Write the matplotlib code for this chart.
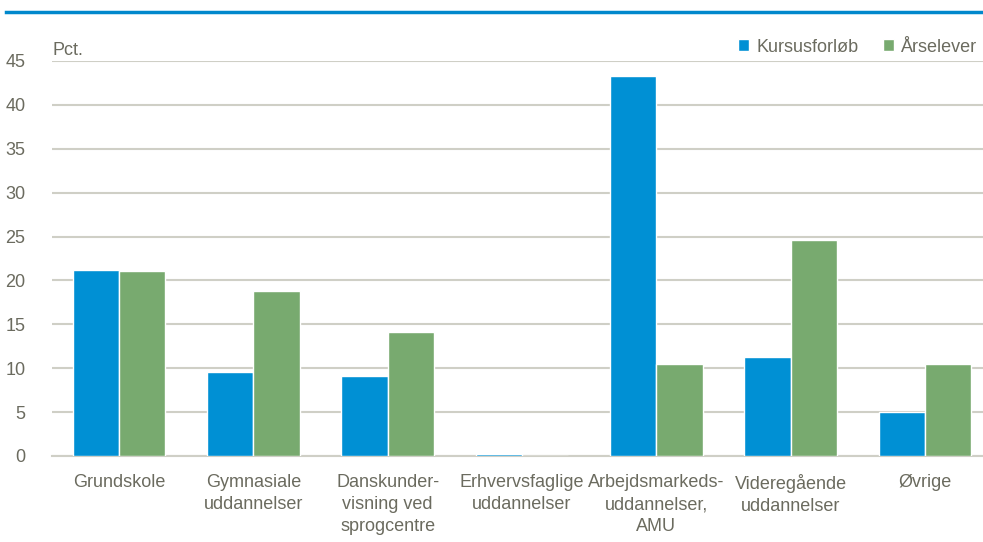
import matplotlib.pyplot as plt
import numpy as np

# ======================
# DATA
# ======================
categories = [
    "Grundskole",
    "Gymnasiale\nuddannelser",
    "Danskunder-\nvisning ved\nsprogcentre",
    "Erhvervsfaglige\nuddannelser",
    "Arbejdsmarkeds-\nuddannelser,\nAMU",
    "Videregående\nuddannelser",
    "Øvrige",
]
kursusforloeb = [21.2, 9.6, 9.1, 0.2, 43.3, 11.3, 5.0]
aarselever = [21.1, 18.8, 14.1, 0.0, 10.5, 24.6, 10.5]
series_names = ["Kursusforløb", "Årselever"]
yticks = [0, 5, 10, 15, 20, 25, 30, 35, 40, 45]

# ======================
# STYLE
# ======================
BLUE = "#0090D4"
GREEN = "#78AA6F"
GRID = "#CFCFC6"
TEXT = "#6B6B5F"

plt.rcParams['font.family'] = ['Liberation Sans', 'DejaVu Sans']
plt.rcParams['font.size'] = 13

fig = plt.figure(figsize=(9.83, 5.42), dpi=100)
# axes run slightly past the right edge, like the original
ax = fig.add_axes([52 / 983, 86 / 542, 940 / 983, 395 / 542])

x = np.arange(len(categories))
w = 0.345
ax.bar(x - w / 2, kursusforloeb, width=w, color=BLUE, edgecolor="white",
       linewidth=1, label=series_names[0], zorder=3)
ax.bar(x + w / 2, aarselever, width=w, color=GREEN, edgecolor="white",
       linewidth=1, label=series_names[1], zorder=3)

ax.set_xlim(-0.5, len(categories) - 0.5)
ax.set_ylim(0, 45)
ax.set_yticks(yticks)
ax.yaxis.grid(True, color=GRID, linewidth=1.5, zorder=0)
ax.set_axisbelow(True)
for s in ["top", "right", "left"]:
    ax.spines[s].set_visible(False)
ax.spines["bottom"].set_color(GRID)
ax.spines["bottom"].set_linewidth(1.5)
ax.tick_params(axis="both", length=0, colors=TEXT, labelsize=13)
ax.tick_params(axis="y", pad=19)
ax.tick_params(axis="x", pad=13)
ax.set_xticks(x)
ax.set_xticklabels(categories, linespacing=1.4)

ax.text(0, 1.005, "Pct.", transform=ax.transAxes, color=TEXT, fontsize=13,
        ha="left", va="bottom")

right_edge = (983 - 52) / 940
leg = ax.legend(loc="lower right", bbox_to_anchor=(right_edge, 1.0),
                ncol=2, frameon=False, handlelength=0.6, handleheight=0.6,
                handletextpad=0.4, columnspacing=1.4, borderaxespad=0.1,
                borderpad=0.2)
for t in leg.get_texts():
    t.set_color(TEXT)

# top rule
fig.add_artist(plt.Line2D([6 / 983, 1.0], [1 - 12 / 542, 1 - 12 / 542],
                          color="#0088CC", linewidth=2.5))

fig.savefig("out.png", dpi=100)
